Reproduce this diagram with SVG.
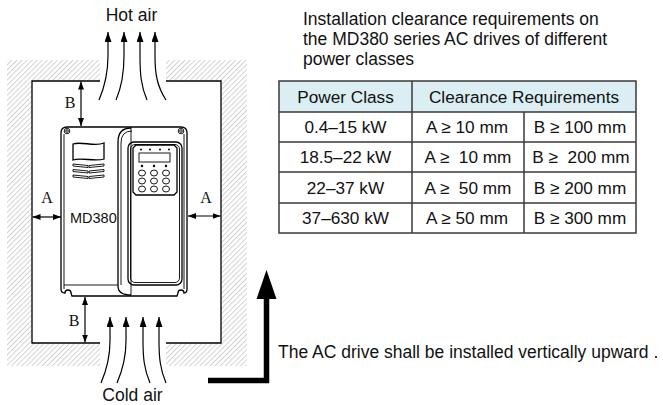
<svg xmlns="http://www.w3.org/2000/svg" width="663" height="405" viewBox="0 0 663 405">
<style>
text{font-family:"Liberation Sans",Arial,sans-serif;fill:#111;}
.lbl{font-size:17.5px;}
.tb{font-size:17.2px;text-anchor:middle;white-space:pre;}
.dim{font-family:"Liberation Serif","Times New Roman",serif;font-size:16px;text-anchor:middle;}
.ln{fill:none;stroke:#000;stroke-width:1.3;}
.thin{fill:none;stroke:#000;stroke-width:0.9;}
.air{fill:none;stroke:#000;stroke-width:1.2;marker-end:url(#ah);}
.dima{fill:none;stroke:#000;stroke-width:1.2;marker-start:url(#dh);marker-end:url(#dh);}
.cell{fill:none;stroke:#3a3a3a;stroke-width:1.5;}
</style>
<defs>
<pattern id="hatch" patternUnits="userSpaceOnUse" width="3.6" height="3.6" patternTransform="rotate(45)">
<line x1="0" y1="0" x2="0" y2="3.6" stroke="#707070" stroke-width="0.6"/>
</pattern>
<marker id="ah" viewBox="0 0 10 7" refX="10" refY="3.5" markerWidth="10" markerHeight="7" markerUnits="userSpaceOnUse" orient="auto">
<path d="M0 0 L10 3.5 L0 7 Z" fill="#000"/>
</marker>
<marker id="dh" viewBox="0 0 8 6" refX="8" refY="3" markerWidth="8" markerHeight="6" markerUnits="userSpaceOnUse" orient="auto-start-reverse">
<path d="M0 0 L8 3 L0 6 Z" fill="#000"/>
</marker>
</defs>
<rect width="663" height="405" fill="#fff"/>

<g id="walls">
<path fill="url(#hatch)" d="M7 60 H32 V366 H7 Z M221 60 H247 V366 H221 Z M32 60 H100 V81 H32 Z M166 60 H221 V81 H166 Z M32 343 H100 V366 H32 Z M166 343 H221 V366 H166 Z"/>
<path class="ln" d="M100 81 H32 V343 H100 M166 343 H221 V81 H166"/>
</g>

<g id="drive">
<path class="ln" fill="#fff" d="M61 133 Q61 127 67 127 H181 Q187 127 187 133 V289 Q187 293 184 293 A3 3 0 0 0 178 293 L177 296 H72 L71 293 A3 3 0 0 0 65 293 Q61 293 61 289 Z"/>
<path class="thin" d="M64 134 V289 M184 134 V289"/>
<circle class="thin" cx="67" cy="131" r="2.8"/>
<circle class="thin" cx="67" cy="131" r="1.3"/>
<circle class="thin" cx="181" cy="131" r="2.8"/>
<circle class="thin" cx="181" cy="131" r="1.3"/>
<path class="thin" d="M64 285 H118"/>
<path class="ln" d="M118 286 V142 Q118 128 131 128"/>
<path class="thin" d="M121 285 V143 Q121 131 132 131"/>
<path class="ln" d="M118 286 Q118 295 131 295"/>
<path class="thin" d="M131 127 V295"/>
<rect class="ln" x="128" y="142" width="54" height="143" rx="6"/>
<rect class="thin" x="130.5" y="144.5" width="49" height="138" rx="4.5"/>
<path class="ln" d="M136 145 H174 L177 148 V192 L174 195 H136 L133 192 V148 Z"/>
<rect class="thin" x="139" y="153" width="31" height="9"/>
<g fill="#000">
<circle cx="141" cy="149.5" r="1"/><circle cx="150" cy="149.5" r="1"/><circle cx="160" cy="149.5" r="1"/><circle cx="169" cy="149.5" r="1"/>
<circle cx="142" cy="166" r="1.2"/><circle cx="154" cy="166" r="1.2"/><circle cx="166" cy="166" r="1.2"/>
</g>
<g class="thin">
<ellipse cx="142" cy="173" rx="3.5" ry="3"/><ellipse cx="154" cy="173" rx="3.5" ry="3"/><ellipse cx="166" cy="173" rx="3.5" ry="3"/>
<ellipse cx="142" cy="181" rx="3.5" ry="3"/><ellipse cx="154" cy="181" rx="3.5" ry="3"/><ellipse cx="166" cy="181" rx="3.5" ry="3"/>
<ellipse cx="142" cy="189" rx="3.5" ry="3"/><ellipse cx="154" cy="189" rx="3.5" ry="3"/><ellipse cx="166" cy="189" rx="3.5" ry="3"/>
</g>
<path class="ln" d="M73 144 C81 141 95 147 104 143 V159 C95 162 81 157 73 160 Z"/>
<g class="thin">
<path d="M73 164 L88 165.5 L88 167.5 L73 166 Z M89 165.5 L104 164 L104 166 L89 167.5 Z"/>
<path d="M73 169.5 L88 171 L88 173 L73 171.5 Z M89 171 L104 169.5 L104 171.5 L89 173 Z"/>
<path d="M73 175 L88 176.5 L88 178.5 L73 177 Z M89 176.5 L104 175 L104 177 L89 178.5 Z"/>
</g>
<text x="70" y="223" style="font-size:14.5px">MD380</text>
</g>

<g id="connectors">
<path class="air" d="M99 100 C105 86 108 74 108 56 V32"/>
<path class="air" d="M116 100 C122 86 124 74 124 56 V32"/>
<path class="air" d="M147 100 C141 86 140 74 140 56 V32"/>
<path class="air" d="M166 100 C157 86 155 74 155 56 V32"/>
<path class="air" d="M101 383 C107 369 110 357 110 341 V317"/>
<path class="air" d="M117 383 C123 369 126 357 126 341 V317"/>
<path class="air" d="M150 383 C144 369 143 357 143 341 V317"/>
<path class="air" d="M166 383 C160 369 159 357 159 341 V317"/>
<path class="dima" d="M81 81.5 V126"/>
<path class="dima" d="M85 297 V342.5"/>
<path class="dima" d="M32.5 217 H61"/>
<path class="dima" d="M188 216 H220.5"/>
<path d="M208 380.5 H266.5 V298" fill="none" stroke="#000" stroke-width="5.5"/>
<path d="M256.5 299 L266.5 270 L276.5 299 Z" fill="#000"/>
</g>

<g id="labels">
<text class="lbl" x="131.5" y="21" text-anchor="middle">Hot air</text>
<text class="lbl" x="132.5" y="401" text-anchor="middle">Cold air</text>
<text class="dim" x="70" y="108">B</text>
<text class="dim" x="74" y="326">B</text>
<text class="dim" x="47" y="203">A</text>
<text class="dim" x="206" y="203">A</text>
<text class="lbl" x="278" y="358">The AC drive shall be installed vertically upward .</text>
<text class="lbl" x="303" y="25">Installation clearance requirements on</text>
<text class="lbl" x="303" y="45">the MD380 series AC drives of different</text>
<text class="lbl" x="303" y="65">power classes</text>
</g>

<g id="table">
<rect x="279" y="81" width="357" height="31" fill="#daeef3"/>
<rect class="cell" x="279" y="81" width="357" height="152"/>
<path class="cell" d="M279 112 H636 M279 142 H636 M279 172 H636 M279 203 H636 M412 81 V233 M524 112 V233"/>
<text class="tb" x="345.5" y="102.5">Power Class</text>
<text class="tb" x="524" y="102.5">Clearance Requirements</text>
<text class="tb" x="345.5" y="133">0.4–15 kW</text>
<text class="tb" x="467" y="133">A ≥ 10 mm</text>
<text class="tb" x="580" y="133">B ≥ 100 mm</text>
<text class="tb" x="345.5" y="163">18.5–22 kW</text>
<text class="tb" x="468" y="163">A ≥  10 mm</text>
<text class="tb" x="581" y="163">B ≥  200 mm</text>
<text class="tb" x="345.5" y="193.5">22–37 kW</text>
<text class="tb" x="468" y="193.5">A ≥  50 mm</text>
<text class="tb" x="580" y="193.5">B ≥ 200 mm</text>
<text class="tb" x="345.5" y="224">37–630 kW</text>
<text class="tb" x="467" y="224">A ≥ 50 mm</text>
<text class="tb" x="580" y="224">B ≥ 300 mm</text>
</g>
</svg>
